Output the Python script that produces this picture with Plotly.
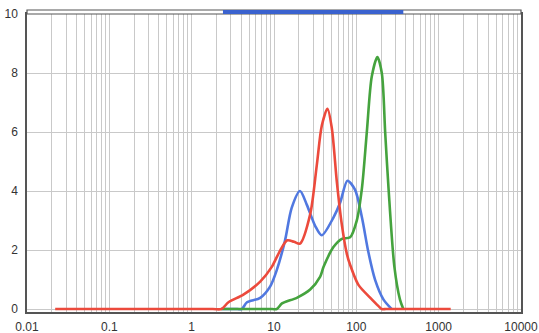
import plotly.graph_objects as go

# ---- data ----
red_x = [0.022, 0.05, 1.8, 2.3, 2.8, 4.25, 6.8, 9.4, 11.9, 14.5, 17.5, 20.7, 27.5, 33.1,
         38.1, 44.6, 50.4, 57.9, 66.6, 76.7, 84, 106, 148, 186, 204, 230, 1000, 1400]
red_y = [0, 0, 0, 0, 0.23, 0.49, 0.93, 1.43, 1.99, 2.33, 2.28, 2.22, 3.21, 4.88,
         6.22, 6.79, 6.13, 4.33, 2.87, 1.87, 1.5, 0.82, 0.38, 0.1, 0, 0, 0, 0]

blue_x = [2.3, 3.6, 4.06, 4.7, 6.8, 9, 10.8, 13.6, 16.4, 20.7, 25, 31.6, 38, 52.7, 63.5, 78,
          96.6, 117, 140, 169, 214, 269]
blue_y = [0, 0, 0, 0.23, 0.38, 0.77, 1.32, 2.32, 3.43, 4.0, 3.54, 2.82, 2.5, 3.1, 3.6, 4.35,
          4.04, 3.1, 1.93, 0.99, 0.32, 0]

green_x = [2.3, 9.5, 10.8, 12.5, 18.9, 27.5, 36.4, 40, 52.7, 66.7, 84, 101, 117, 134, 154,
           180, 204, 224, 246, 290, 339, 372]
green_y = [0, 0, 0, 0.19, 0.38, 0.66, 1.1, 1.43, 2.1, 2.38, 2.43, 2.99, 4.1, 5.99, 7.88,
           8.54, 7.99, 5.99, 4.1, 1.43, 0.32, 0]

range_bar = [2.4, 372]

x_tickvals = [0.01, 0.1, 1, 10, 100, 1000, 10000]
x_ticktext = ["0.01", "0.1", "1", "10", "100", "1000", "10000"]
y_tickvals = [0, 2, 4, 6, 8, 10]
minor_multiples = [2, 3, 4, 5, 6, 7, 8, 9]
minor_vals = [d * m for d in x_tickvals[:-1] for m in minor_multiples]

RED = "#ec4a3c"
BLUE = "#5078e0"
GREEN = "#45a33e"
GRID = "#c9c9c9"
FRAME = "#555555"

fig = go.Figure()
for xs, ys, col in [(blue_x, blue_y, BLUE), (green_x, green_y, GREEN), (red_x, red_y, RED)]:
    fig.add_trace(go.Scatter(x=xs, y=ys, mode="lines",
                             line=dict(color=col, width=2.6, shape="spline", smoothing=0.8),
                             showlegend=False, hoverinfo="skip"))

band_h = 4 / 298
fig.add_shape(type="rect", xref="paper", yref="paper", x0=0, x1=1, y0=1, y1=1 + band_h,
              line=dict(color=FRAME, width=1.2), fillcolor="white", layer="above")
fig.add_shape(type="rect", xref="x", yref="paper", x0=range_bar[0], x1=range_bar[1],
              y0=1, y1=1 + band_h, line=dict(width=0), fillcolor="#3a62cf", layer="above")

fig.update_xaxes(type="log", range=[-2, 4], tickvals=x_tickvals, ticktext=x_ticktext,
                 showgrid=True, gridcolor=GRID, gridwidth=1, automargin=False,
                 minor=dict(tickmode="array", tickvals=minor_vals, showgrid=True,
                            gridcolor=GRID, gridwidth=1, ticks=""),
                 showline=True, linecolor=FRAME, linewidth=1.5, mirror=True,
                 ticks="", ticklabelstandoff=3, zeroline=False,
                 tickfont=dict(family="Liberation Sans, Arial", size=12, color="#333"))
fig.update_yaxes(range=[-0.1, 10], tickvals=y_tickvals, automargin=False,
                 showgrid=True, gridcolor=GRID, gridwidth=1,
                 showline=True, linecolor=FRAME, linewidth=1.5, mirror=True,
                 ticks="", ticklabelstandoff=5, zeroline=False,
                 tickfont=dict(family="Liberation Sans, Arial", size=12, color="#333"))

fig.update_layout(width=539, height=333, margin=dict(l=27, r=18, t=14, b=21),
                  paper_bgcolor="white", plot_bgcolor="white")

fig.write_html("out.html")
